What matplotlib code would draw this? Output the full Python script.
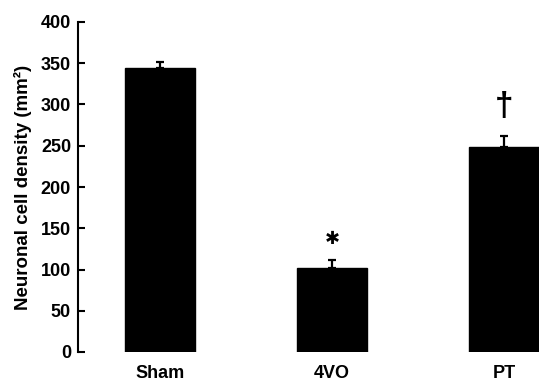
import matplotlib.pyplot as plt

plt.rcParams['font.family'] = ['Liberation Sans', 'DejaVu Sans']
plt.rcParams['font.weight'] = 'bold'

groups = ['Sham', '4VO', 'PT']
density = [344, 102, 249]
sem = [8, 9, 13]
marks = ['', '\u2731', '\u2020']

fig = plt.figure(figsize=(5.39, 3.8), dpi=100)
ax = fig.add_axes([78 / 539, 1 - 352 / 380, 1 - 78 / 539, 330 / 380])

x = range(len(groups))
ax.bar(x, density, width=0.41, color='black', edgecolor='black')
ax.errorbar(x, density, yerr=[[0] * 3, sem], fmt='none', ecolor='black',
            elinewidth=1.6, capsize=3, capthick=1.6)

# significance symbols
ax.text(1, 137, marks[1], ha='center', va='center', fontsize=13,
        family=['DejaVu Sans'], fontweight='bold')
ax.text(2, 298, marks[2], ha='center', va='center', fontsize=24, fontweight='bold')

ax.set_xlim(-0.477, 2.203)
ax.set_ylim(0, 400)
ax.set_yticks(range(0, 401, 50))
ax.set_xticks(list(x))
ax.set_xticklabels(groups, fontsize=13, fontweight='bold')
ax.tick_params(axis='x', length=0, pad=9)
ax.tick_params(axis='y', direction='in', length=5, width=1.5, labelsize=13, pad=5)
for lab in ax.get_yticklabels():
    lab.set_fontweight('bold')

for side in ['top', 'right', 'bottom']:
    ax.spines[side].set_visible(False)
ax.spines['left'].set_linewidth(1.5)

ax.set_ylabel('Neuronal cell density (mm\u00b2)', fontsize=13.5, fontweight='bold', labelpad=6)

fig.savefig('out.png', dpi=100)
